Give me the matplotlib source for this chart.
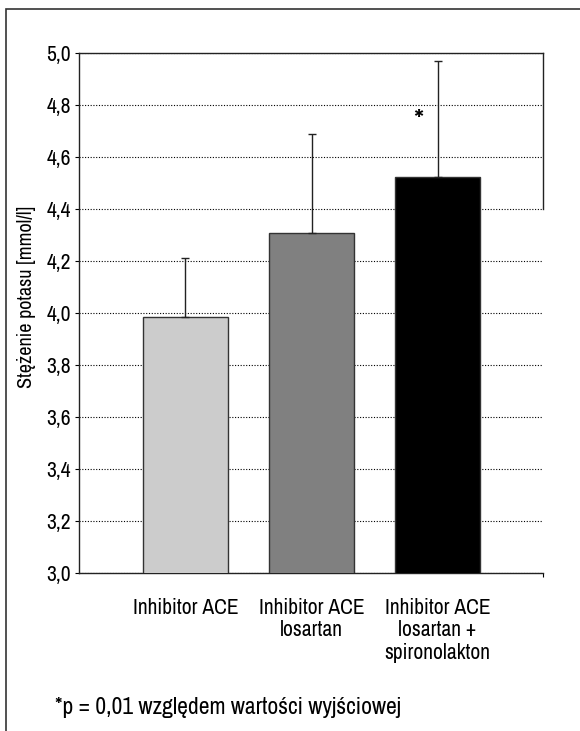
import numpy as np
import matplotlib
matplotlib.use('Agg')
import matplotlib.pyplot as plt
from matplotlib.patches import Rectangle
from matplotlib.ticker import FixedLocator, FuncFormatter

plt.rcParams['font.family'] = ['Archivo Narrow', 'Roboto Condensed', 'DejaVu Sans']

# values
groups = ['Inhibitor ACE', 'Inhibitor ACE\nlosartan', 'Inhibitor ACE\nlosartan +\nspironolakton']
means = [3.985, 4.308, 4.523]
errors = [0.225, 0.382, 0.447]
colors = ['#cccccc', '#808080', '#000000']
yticks = [3.0, 3.2, 3.4, 3.6, 3.8, 4.0, 4.2, 4.4, 4.6, 4.8, 5.0]

FS = 15.5
W, H = 580, 731
fig = plt.figure(figsize=(W / 100, H / 100), dpi=100)
ax = fig.add_axes([79 / W, 1 - 573 / H, 464 / W, 520 / H])

x = np.arange(len(groups))
ax.bar(x, means, width=0.675, color=colors, edgecolor='#333333', linewidth=1.0, zorder=3)
ax.errorbar(x, means, yerr=[np.zeros(len(errors)), errors], fmt='none',
            ecolor='#222222', elinewidth=1.0, capsize=2.6, capthick=1.0, zorder=4)

ax.set_xlim(-0.845, 2.837)
ax.set_ylim(3.0, 5.0)

# gridlines
ax.yaxis.set_major_locator(FixedLocator(yticks))
ax.yaxis.set_major_formatter(FuncFormatter(lambda v, p: ('%.1f' % v).replace('.', ',')))
ax.grid(axis='y', color='black', linestyle=(0, (1, 1.5)), linewidth=0.8, zorder=0)
ax.set_axisbelow(True)

ax.set_xticks(x)
ax.set_xticklabels(groups, fontsize=FS, linespacing=1.15)
ax.tick_params(axis='x', length=0, pad=18)
ax.tick_params(axis='y', direction='out', length=3, width=0.8, labelsize=FS, pad=3)

# small tick at right end of the category axis
ax.set_xticks([2.837], minor=True)
ax.tick_params(axis='x', which='minor', length=3, width=0.8, direction='out')

for s in ['left', 'bottom', 'top']:
    ax.spines[s].set_linewidth(1.0)
    ax.spines[s].set_color('#222222')
ax.spines['right'].set_visible(False)
ax.axvline(2.837, ymin=0.7, ymax=1.0, color='#222222', linewidth=1.0, clip_on=False)

ax.set_ylabel('Stężenie potasu [mmol/l]', fontsize=14.5)
ax.yaxis.set_label_coords((36 - 79) / 464, 0.53)

ax.text(1.85, 4.735, '*', fontsize=23, ha='center', va='center')

fig.text(55 / W, 1 - 707 / H, '*p = 0,01 względem wartości wyjściowej', fontsize=17, va='center')

# outer frame
fig.add_artist(Rectangle((6 / W, -0.1), 1.2, 1 - 9 / H + 0.1, transform=fig.transFigure,
                         fill=False, edgecolor='#333333', linewidth=1.2))

fig.savefig('out.png', dpi=100)
